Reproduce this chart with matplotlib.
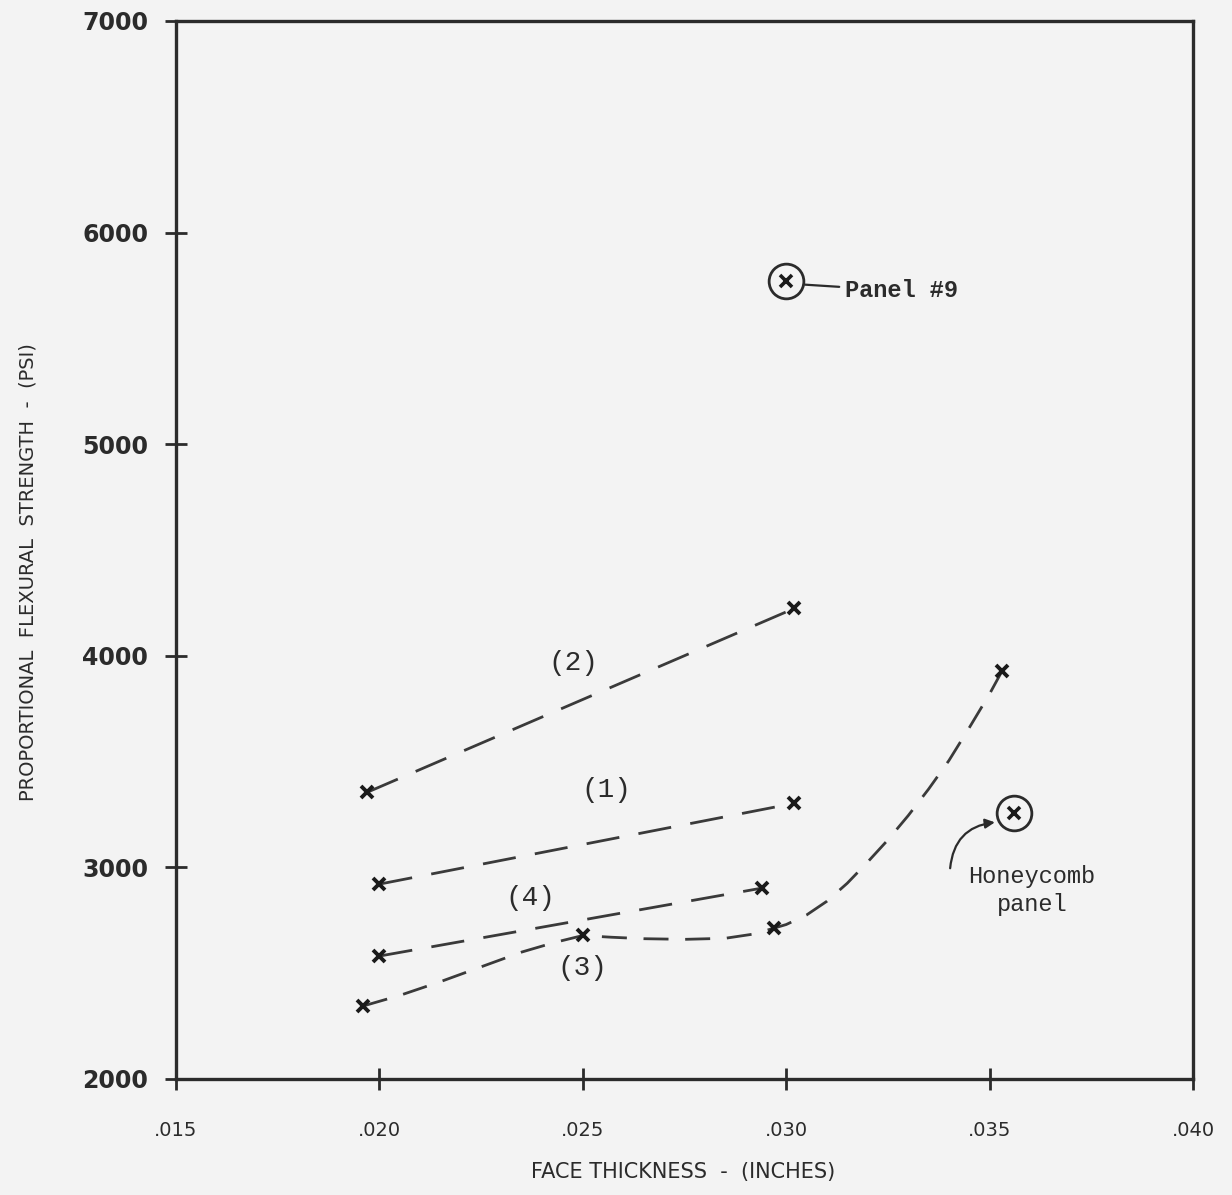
import matplotlib.pyplot as plt

# series (face thickness in inches, strength in psi)
s1_x = [0.0200, 0.0302]
s1_y = [2921, 3303]
s2_x = [0.0197, 0.0302]
s2_y = [3355, 4224]
s4_x = [0.0200, 0.0294]
s4_y = [2581, 2902]
s3_x = [0.0196, 0.0250, 0.0297, 0.0353]
s3_y = [2345, 2680, 2713, 3926]
# hand-drawn curve through series 3, traced along the dashes
curve3_x = [0.0196, 0.0205, 0.0215, 0.0225, 0.0235, 0.0243, 0.0250, 0.0257,
            0.0265, 0.0275, 0.0285, 0.0292, 0.0297, 0.0300, 0.0305, 0.0310,
            0.0315, 0.0320, 0.0325, 0.0330, 0.0335, 0.0340, 0.0345, 0.0350,
            0.0353]
curve3_y = [2345, 2395, 2460, 2530, 2600, 2645, 2678, 2670,
            2663, 2660, 2665, 2685, 2713, 2730, 2775, 2840,
            2925, 3025, 3130, 3245, 3370, 3505, 3660, 3820,
            3926]
panel9 = (0.0300, 5772)
honeycomb = (0.0356, 3256)

series_labels = ["(2)", "(1)", "(4)", "(3)"]
label_x = [0.02476, 0.02557, 0.0237, 0.0250]
label_y = [3964, 3364, 2855, 2524]

xticks = [0.015, 0.020, 0.025, 0.030, 0.035, 0.040]
xtick_labels = [".015", ".020", ".025", ".030", ".035", ".040"]
yticks = [2000, 3000, 4000, 5000, 6000, 7000]

ink = "#2b2b2b"
paper = "#f3f3f3"
mono = ["Liberation Mono", "DejaVu Sans Mono"]

fig = plt.figure(figsize=(12.32, 11.95), dpi=100, facecolor=paper)
ax = fig.add_axes([176 / 1232, 1 - 1079 / 1195, 1017 / 1232, 1058 / 1195])
ax.set_facecolor(paper)

dash = dict(color="#3a3a3a", linewidth=2.0, linestyle=(0, (12, 7)))
ax.plot(s2_x, s2_y, **dash)
ax.plot(s1_x, s1_y, **dash)
ax.plot(s4_x, s4_y, **dash)
ax.plot(curve3_x, curve3_y, color="#3a3a3a", linewidth=2.0, linestyle=(0, (9, 6)))

for xs, ys in [(s1_x, s1_y), (s2_x, s2_y), (s4_x, s4_y), (s3_x, s3_y)]:
    ax.plot(xs, ys, linestyle="none", marker="x", ms=9, mew=2.8, color="#1a1a1a")

for px, py in [panel9, honeycomb]:
    ax.plot(px, py, marker="x", ms=8, mew=2.6, color="#1a1a1a")
    ax.plot(px, py, marker="o", ms=25, mfc="none", mew=2.0, color=ink)

for lab, lx, ly in zip(series_labels, label_x, label_y):
    ax.text(lx, ly, lab, fontsize=20, family=mono, color=ink, ha="center", va="center")

ax.annotate("Panel #9", xy=(0.03046, 5754), xytext=(0.03144, 5725),
            fontsize=17, family=mono, weight="bold", color=ink, va="center", ha="left",
            arrowprops=dict(arrowstyle="-", color=ink, lw=1.6, shrinkA=2, shrinkB=0))
ax.text(0.03604, 2892, "Honeycomb\npanel", fontsize=17, family=mono, color=ink,
        ha="center", va="center", linespacing=1.3)
ax.annotate("", xy=(0.03513, 3213), xytext=(0.03403, 2996),
            arrowprops=dict(arrowstyle="-|>", color=ink, lw=1.6, mutation_scale=14,
                            connectionstyle="arc3,rad=-0.4", shrinkA=0, shrinkB=0))

ax.set_xlim(0.015, 0.040)
ax.set_ylim(2000, 7000)
ax.set_xticks(xticks)
ax.set_xticklabels(xtick_labels)
ax.set_yticks(yticks)
ax.tick_params(axis="both", direction="inout", length=16, width=2, color=ink)
ax.tick_params(axis="x", pad=22, labelsize=14, labelcolor=ink)
ax.tick_params(axis="y", pad=12, labelsize=17, labelcolor=ink)
for t in ax.get_yticklabels():
    t.set_fontweight("bold")
ax.xaxis.set_ticks_position("bottom")
ax.yaxis.set_ticks_position("left")
for sp in ax.spines.values():
    sp.set_linewidth(2.4)
    sp.set_color(ink)

fig.text(683 / 1232, 1 - 1172 / 1195, "FACE THICKNESS  -  (INCHES)", fontsize=15,
         color=ink, ha="center", va="center")
fig.text(28 / 1232, 1 - 572 / 1195, "PROPORTIONAL  FLEXURAL  STRENGTH  -  (PSI)", fontsize=14,
         color=ink, ha="center", va="center", rotation=90)

plt.savefig("out.png", dpi=100, facecolor=paper)
